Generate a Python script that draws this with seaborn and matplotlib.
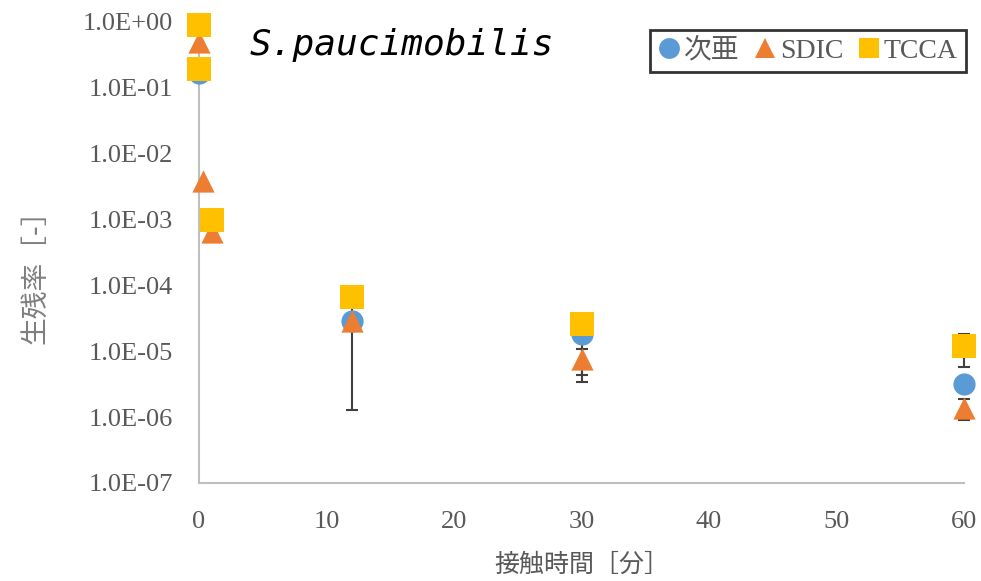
import numpy as np
import pandas as pd
import matplotlib
matplotlib.use("Agg")
import matplotlib.pyplot as plt
from matplotlib.lines import Line2D
import seaborn as sns

# Survival ratio vs. contact time for three chlorine disinfectants
series_names = ["次亜", "SDIC", "TCCA"]

hypo_time = [0, 12, 30, 60]
hypo_ratio = [0.17, 2.9e-5, 1.8e-5, 3.2e-6]
hypo_err = [0, 2.77e-5, 1.46e-5, 0]

sdic_time = [0, 0.35, 1, 12, 30, 60]
sdic_ratio = [0.5, 3.9e-3, 6.5e-4, 2.9e-5, 7.7e-6, 1.4e-6]
sdic_err = [0, 0, 0, 0, 3.3e-6, 0.5e-6]

tcca_time = [0, 0, 1, 12, 30, 60]
tcca_ratio = [0.9, 0.19, 1.0e-3, 6.6e-5, 2.6e-5, 1.2e-5]
tcca_err = [0, 0, 0, 0, 0, 6.3e-6]

x_ticks = [0, 10, 20, 30, 40, 50, 60]
y_ticks = [1e0, 1e-1, 1e-2, 1e-3, 1e-4, 1e-5, 1e-6, 1e-7]
y_tick_labels = ["1.0E+00", "1.0E-01", "1.0E-02", "1.0E-03",
                 "1.0E-04", "1.0E-05", "1.0E-06", "1.0E-07"]

colors = {"次亜": "#5B9BD5", "SDIC": "#ED7D31", "TCCA": "#FFC000"}
markers = {"次亜": "o", "SDIC": "^", "TCCA": "s"}
sizes = {"次亜": 16 ** 2, "SDIC": 16 ** 2, "TCCA": 17 ** 2}

frames = []
for name, t, r, e in [("次亜", hypo_time, hypo_ratio, hypo_err),
                      ("SDIC", sdic_time, sdic_ratio, sdic_err),
                      ("TCCA", tcca_time, tcca_ratio, tcca_err)]:
    frames.append(pd.DataFrame({"time": t, "ratio": r, "err": e, "agent": name}))
df = pd.concat(frames, ignore_index=True)

sns.set_style("white")
serif = ["Liberation Serif", "Noto Sans CJK JP", "DejaVu Sans"]
cjk = ["Noto Sans CJK JP", "DejaVu Sans"]
plt.rcParams["font.family"] = serif

fig = plt.figure(figsize=(9.81, 5.81), dpi=100)
ax = fig.add_axes([199 / 981, 98 / 581, 765 / 981, 461 / 581])

z = 3
for name in series_names:
    sub = df[df["agent"] == name]
    eb = sub[sub["err"] > 0]
    if len(eb):
        ax.errorbar(eb["time"], eb["ratio"], yerr=eb["err"], fmt="none",
                    ecolor="#404040", elinewidth=1.5, capsize=4.5,
                    capthick=1.5, zorder=z - 0.5, clip_on=False)
    sns.scatterplot(data=sub, x="time", y="ratio", ax=ax, color=colors[name],
                    marker=markers[name], s=sizes[name], linewidth=0,
                    clip_on=False, zorder=z, legend=False)
    z += 1

ax.set_yscale("log")
ax.set_xlim(0, 60)
ax.set_ylim(1e-7, 1e0)
ax.set_xticks(x_ticks)
ax.set_xticklabels([str(v) for v in x_ticks])
ax.set_yticks(y_ticks)
ax.set_yticklabels(y_tick_labels)
ax.minorticks_off()
ax.tick_params(axis="both", length=0, colors="#595959", labelsize=19)
ax.tick_params(axis="y", pad=19)
ax.tick_params(axis="x", pad=20)

for side in ["top", "right"]:
    ax.spines[side].set_visible(False)
for side in ["left", "bottom"]:
    ax.spines[side].set_color("#BFBFBF")
    ax.spines[side].set_linewidth(1.5)

ax.set_xlabel("接触時間［分］", family=cjk, fontsize=18, color="#595959")
ax.xaxis.set_label_coords(0.5, -0.15)
ax.set_ylabel("生残率［-］", family=cjk, fontsize=20, color="#7F7F7F")
ax.yaxis.set_label_coords(-0.195, 0.462)

fig.text(250 / 981, 1 - 45 / 581, "S.paucimobilis", family="DejaVu Sans Mono",
         style="oblique", fontsize=26, color="black", va="center", ha="left")

handles = [Line2D([], [], linestyle="none", marker=markers[n], color=colors[n],
                  markersize=15, markeredgewidth=0) for n in series_names]
leg = fig.legend(handles, series_names, loc="upper right",
                 bbox_to_anchor=(966 / 981, 1 - 30 / 581), borderaxespad=0,
                 ncol=3, frameon=True, fancybox=False, handlelength=0.8,
                 handletextpad=0.15, columnspacing=0.5, borderpad=0.3,
                 prop={"family": serif, "size": 20})
leg.get_frame().set_edgecolor("black")
leg.get_frame().set_linewidth(2)
for t in leg.get_texts():
    t.set_color("#595959")

fig.savefig("out.png", dpi=100)
